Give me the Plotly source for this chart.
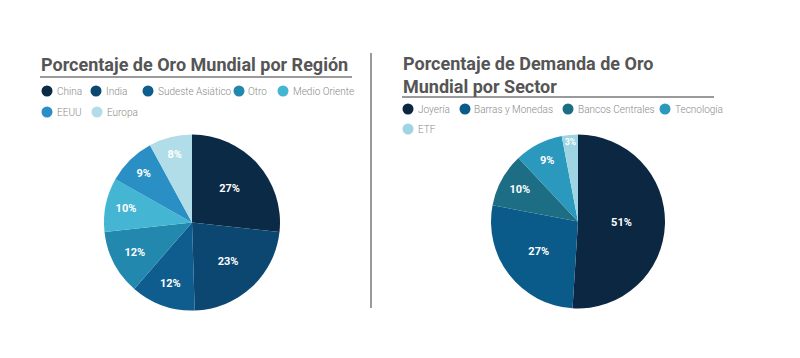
import plotly.graph_objects as go

W, H = 800, 358
OFF = 8  # page body margin offset

# ---- data ----
region_labels = ["China", "India", "Sudeste Asiático", "Otro", "Medio Oriente", "EEUU", "Europa"]
region_values = [27, 23, 12, 12, 10, 9, 8]
region_colors = ["#0a2a45", "#0c4772", "#0e5d8e", "#2388ae", "#45b5d4", "#2a8fc4", "#b0dde8"]

sector_labels = ["Joyería", "Barras y Monedas", "Bancos Centrales", "Tecnología", "ETF"]
sector_values = [51, 27, 10, 9, 3]
sector_colors = ["#0b2742", "#0b5b8a", "#1d6e85", "#2a99bd", "#9fd5e2"]

title_left = "Porcentaje de Oro Mundial por Región"
title_right = "Porcentaje de Demanda de Oro<br>Mundial por Sector"


def px_x(x):
    return (x - OFF) / W


def px_y(y):
    return 1 - (y - OFF) / H


fig = go.Figure()

common = dict(
    sort=False, direction="clockwise", rotation=0,
    textinfo="percent", texttemplate="%{value}%",
    textposition="inside", insidetextorientation="horizontal",
    textfont=dict(family="Roboto", size=11, color="white", weight="bold"),
    marker_line_width=0, showlegend=False, hoverinfo="label+percent",
)

fig.add_trace(go.Pie(
    labels=region_labels, values=region_values,
    marker_colors=region_colors,
    domain=dict(x=[px_x(104), px_x(280)], y=[px_y(311), px_y(134)]),
    **common,
))
fig.add_trace(go.Pie(
    labels=sector_labels, values=sector_values,
    marker_colors=sector_colors,
    domain=dict(x=[px_x(491), px_x(665)], y=[px_y(309), px_y(134)]),
    **common,
))

shapes = []
annotations = []

# titles
annotations.append(dict(text=title_left, x=px_x(39), y=px_y(65), xref="paper", yref="paper",
                        xanchor="left", yanchor="middle", showarrow=False,
                        font=dict(family="Roboto", size=18, color="#555555", weight="bold")))
annotations.append(dict(text=title_right, x=px_x(401), y=px_y(75), xref="paper", yref="paper",
                        xanchor="left", yanchor="middle", showarrow=False, align="left",
                        font=dict(family="Roboto", size=18, color="#555555", weight="bold")))

# underline & divider
line_style = dict(color="#9a9a9a", width=2)
shapes.append(dict(type="line", xref="paper", yref="paper", x0=px_x(40), x1=px_x(352),
                   y0=px_y(77), y1=px_y(77), line=line_style))
shapes.append(dict(type="line", xref="paper", yref="paper", x0=px_x(402), x1=px_x(714),
                   y0=px_y(97), y1=px_y(97), line=line_style))
shapes.append(dict(type="line", xref="paper", yref="paper", x0=px_x(371), x1=px_x(371),
                   y0=px_y(53), y1=px_y(308), line=line_style))

# custom legends (circle markers)
left_legend_pos = [(47, 91), (96, 91), (148, 91), (239, 91), (283, 91), (47, 112), (97, 112)]
right_legend_pos = [(408, 109), (465, 109), (568, 109), (665, 109), (408, 129)]


def add_legend(labels, colors, positions):
    r = 5.5
    for lab, col, (cx, cy) in zip(labels, colors, positions):
        shapes.append(dict(type="circle", xref="paper", yref="paper",
                           x0=px_x(cx - r), x1=px_x(cx + r), y0=px_y(cy + r), y1=px_y(cy - r),
                           fillcolor=col, line=dict(width=0)))
        annotations.append(dict(text=lab, x=px_x(cx + r + 2), y=px_y(cy), xref="paper", yref="paper",
                                xanchor="left", yanchor="middle", showarrow=False,
                                font=dict(family="Roboto", size=10, color="#8a8a8a", weight=300)))


add_legend(region_labels, region_colors, left_legend_pos)
add_legend(sector_labels, sector_colors, right_legend_pos)

fig.update_layout(
    width=W, height=H,
    margin=dict(l=0, r=0, t=0, b=0),
    paper_bgcolor="white", plot_bgcolor="white",
    shapes=shapes, annotations=annotations,
    showlegend=False,
)

fig.write_html("out.html")
